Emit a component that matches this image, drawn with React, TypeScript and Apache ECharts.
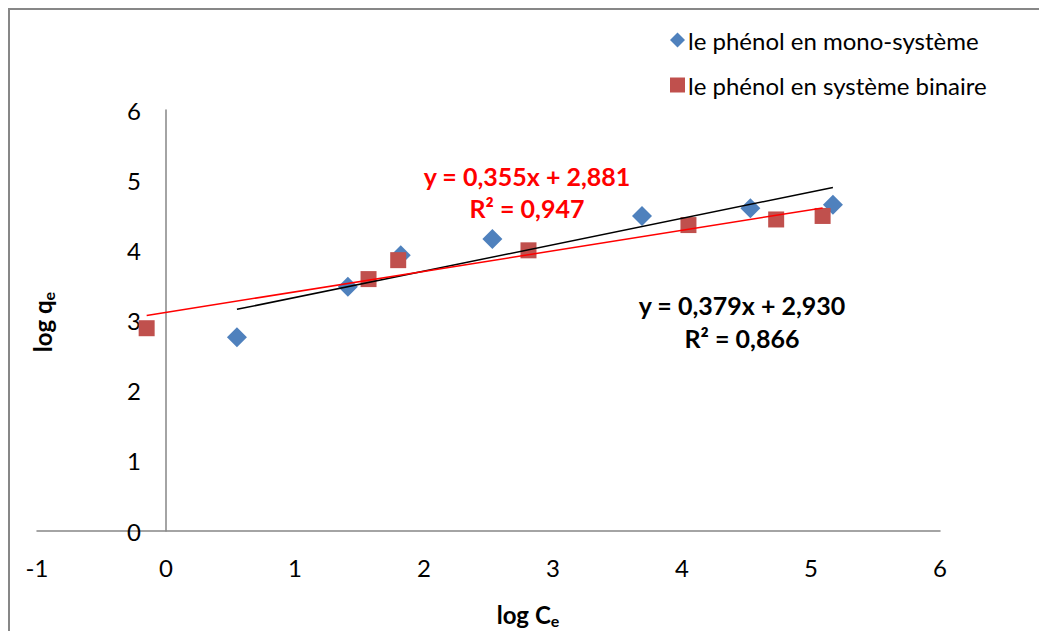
import React, { useEffect, useRef } from "react";
import * as echarts from "echarts";

const monoName = "le phénol en mono-système";
const binName = "le phénol en système binaire";

const monoX = [0.55, 1.41, 1.82, 2.53, 3.69, 4.53, 5.17];
const monoY = [2.76, 3.48, 3.93, 4.16, 4.49, 4.6, 4.65];
const binX = [-0.15, 1.57, 1.8, 2.81, 4.05, 4.73, 5.09];
const binY = [2.89, 3.59, 3.86, 4.0, 4.36, 4.44, 4.49];

const xTicks = { min: -1, max: 6, step: 1 };
const yTicks = { min: 0, max: 6, step: 1 };

const monoEq = ["y = 0,379x + 2,930", "R² = 0,866"];
const binEq = ["y = 0,355x + 2,881", "R² = 0,947"];

const FONT = "Lato";

const GRID = { left: 37, right: 99, top: 110, bottom: 100 };
const W = 1039;
const H = 631;

function fit(xs: number[], ys: number[]) {
  const n = xs.length;
  const mx = xs.reduce((a, b) => a + b, 0) / n;
  const my = ys.reduce((a, b) => a + b, 0) / n;
  let sxy = 0;
  let sxx = 0;
  for (let i = 0; i < n; i++) {
    sxy += (xs[i] - mx) * (ys[i] - my);
    sxx += (xs[i] - mx) * (xs[i] - mx);
  }
  const m = sxy / sxx;
  const b = my - m * mx;
  const x0 = Math.min(...xs);
  const x1 = Math.max(...xs);
  return [
    [x0, m * x0 + b],
    [x1, m * x1 + b],
  ];
}

export default function App() {
  const ref = useRef<HTMLDivElement>(null);
  useEffect(() => {
    if (!ref.current) return;
    const chart = echarts.init(ref.current, null, { renderer: "svg" });
    const axisLabel = { fontSize: 24, color: "#000", fontFamily: FONT };
    const plotW = W - GRID.left - GRID.right;
    // y axis sits on x = 0
    const yOffset = -plotW * ((0 - xTicks.min) / (xTicks.max - xTicks.min));
    chart.setOption({
      animation: false,
      backgroundColor: "#fff",
      grid: { ...GRID, containLabel: false },
      legend: {
        orient: "vertical",
        left: 665,
        top: 23,
        itemGap: 21,
        itemWidth: 15,
        itemHeight: 15,
        textStyle: { fontSize: 24, color: "#000", fontFamily: FONT, padding: [0, 0, 0, -2] },
        data: [
          { name: monoName, icon: "diamond" },
          { name: binName, icon: "rect" },
        ],
      },
      xAxis: {
        type: "value",
        min: xTicks.min,
        max: xTicks.max,
        interval: xTicks.step,
        axisLine: { show: true, onZero: true, lineStyle: { color: "#868686", width: 1.5 } },
        axisTick: { show: false },
        splitLine: { show: false },
        axisLabel: { ...axisLabel, margin: 24 },
      },
      yAxis: {
        type: "value",
        min: yTicks.min,
        max: yTicks.max,
        interval: yTicks.step,
        offset: yOffset,
        axisLine: { show: true, onZero: false, lineStyle: { color: "#868686", width: 1.5 } },
        axisTick: { show: false },
        splitLine: { show: false },
        axisLabel: { ...axisLabel, margin: 25 },
      },
      series: [
        {
          name: monoName,
          type: "scatter",
          symbol: "diamond",
          symbolSize: 20,
          itemStyle: { color: "#4F81BD", opacity: 1 },
          data: monoX.map((x, i) => [x, monoY[i]]),
          z: 3,
        },
        {
          name: binName,
          type: "scatter",
          symbol: "rect",
          symbolSize: 16,
          itemStyle: { color: "#C0504D", opacity: 1 },
          data: binX.map((x, i) => [x, binY[i]]),
          z: 3,
        },
        {
          name: "trend-mono",
          type: "line",
          symbol: "none",
          lineStyle: { color: "#000", width: 1.5 },
          data: fit(monoX, monoY),
          z: 4,
        },
        {
          name: "trend-bin",
          type: "line",
          symbol: "none",
          lineStyle: { color: "#FF0000", width: 1.5 },
          data: fit(binX, binY),
          z: 4,
        },
      ],
      graphic: [
        {
          type: "rect",
          shape: { x: 9, y: 9, width: 1100, height: 700 },
          style: { fill: "none", stroke: "#878787", lineWidth: 2 },
          silent: true,
        },
        {
          type: "text",
          x: 42,
          y: 322,
          rotation: Math.PI / 2,
          style: {
            text: "{a|log q}{b|e}",
            align: "center",
            verticalAlign: "middle",
            rich: {
              a: { fontSize: 24, fontWeight: "bold", fontFamily: FONT, fill: "#000" },
              b: { fontSize: 16, fontWeight: "bold", fontFamily: FONT, fill: "#000", padding: [12, 0, 0, 0] },
            },
          },
        },
        {
          type: "text",
          x: 528,
          y: 614,
          style: {
            text: "{a|log C}{b|e}",
            align: "center",
            verticalAlign: "middle",
            rich: {
              a: { fontSize: 24, fontWeight: "bold", fontFamily: FONT, fill: "#000" },
              b: { fontSize: 16, fontWeight: "bold", fontFamily: FONT, fill: "#000", padding: [12, 0, 0, 0] },
            },
          },
        },
        ...binEq.map((t, i) => ({
          type: "text",
          x: 527,
          y: 176 + i * 32,
          style: {
            text: t,
            align: "center",
            verticalAlign: "middle",
            fontSize: 25,
            fontWeight: "bold",
            fontFamily: FONT,
            fill: "#FF0000",
          },
        })),
        ...monoEq.map((t, i) => ({
          type: "text",
          x: 742,
          y: 305 + i * 33,
          style: {
            text: t,
            align: "center",
            verticalAlign: "middle",
            fontSize: 25,
            fontWeight: "bold",
            fontFamily: FONT,
            fill: "#000",
          },
        })),
      ],
    });
    return () => chart.dispose();
  }, []);
  return (
    <div
      ref={ref}
      style={{ position: "fixed", left: 0, top: 0, width: W, height: H, background: "#fff" }}
    />
  );
}
